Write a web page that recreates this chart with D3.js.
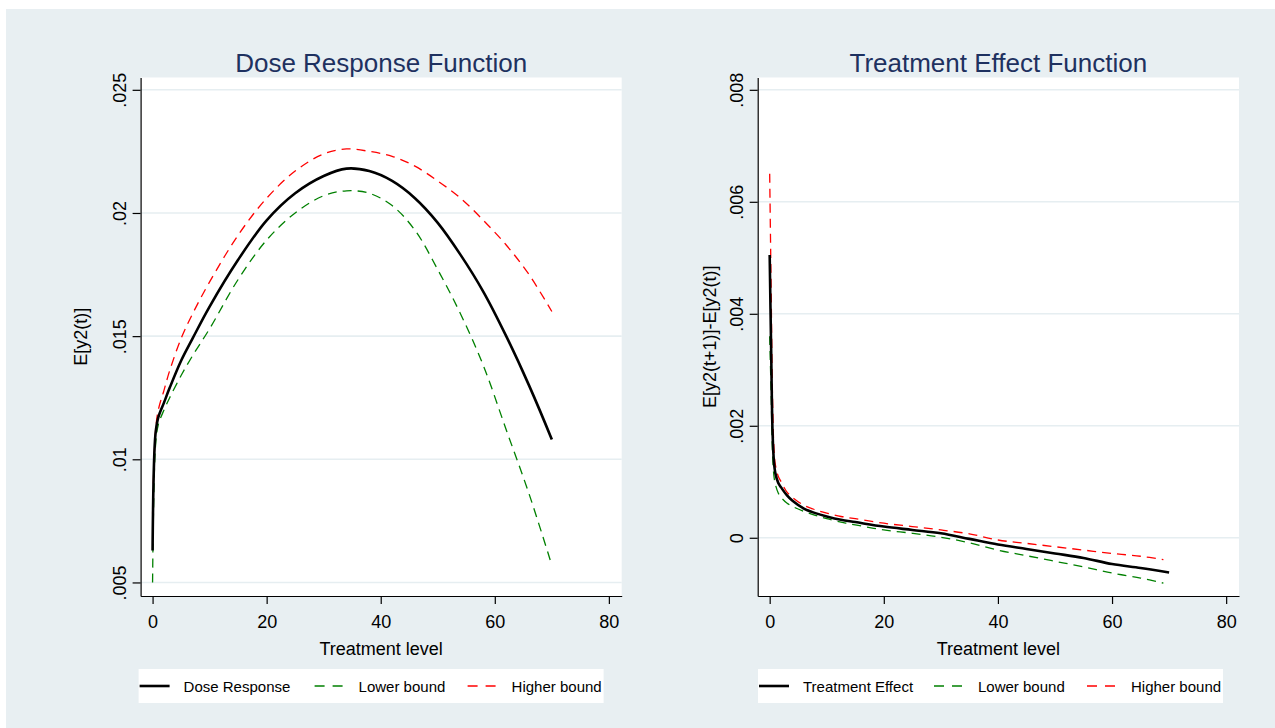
<!DOCTYPE html>
<html>
<head>
<meta charset="utf-8">
<script src="https://cdn.jsdelivr.net/npm/d3@7"></script>
<style>
  body { margin: 0; background: #ffffff; }
  svg { display: block; font-family: "Liberation Sans", Arial, sans-serif; }
</style>
</head>
<body>
<svg id="chart" width="1275" height="728"></svg>
<script>
const doseT = [0, 0.5, 1, 2, 3, 5, 7, 10, 15, 20, 25, 30, 34, 38, 42, 46, 50, 54, 58, 62, 66, 70];
const doseResponse = [0.0063, 0.0110, 0.0117, 0.0123, 0.0129, 0.0140, 0.0149, 0.0162, 0.0181, 0.0197, 0.0208, 0.0215, 0.0218, 0.0217, 0.0213, 0.0206, 0.0196, 0.0183, 0.0168, 0.0150, 0.0130, 0.0108];
const doseLower = [0.0050, 0.0105, 0.0114, 0.0120, 0.0125, 0.0134, 0.0142, 0.0153, 0.0173, 0.0189, 0.0200, 0.0207, 0.0209, 0.0208, 0.0203, 0.0193, 0.0177, 0.0159, 0.0138, 0.0112, 0.0086, 0.0057];
const doseHigher = [0.0078, 0.0111, 0.0120, 0.0128, 0.0136, 0.0149, 0.0159, 0.0172, 0.0191, 0.0206, 0.0217, 0.0224, 0.0226, 0.0225, 0.0223, 0.0219, 0.0213, 0.0206, 0.0197, 0.0187, 0.0175, 0.0160];

const effectT = [0, 0.25, 0.5, 0.75, 1, 1.5, 2, 3, 4, 6, 8, 10, 12.5, 15, 20, 25, 30, 35, 40, 45, 50, 55, 60, 65, 70];
const boundT = [0, 0.25, 0.5, 0.75, 1, 1.5, 2, 3, 4, 6, 8, 10, 12.5, 15, 20, 25, 30, 35, 40, 45, 50, 55, 60, 65, 69];
const treatEffect = [0.00505, 0.0034, 0.0019, 0.00135, 0.00115, 0.00098, 0.0009, 0.00076, 0.00066, 0.00052, 0.00044, 0.00038, 0.00032, 0.00028, 0.0002, 0.00014, 0.00008, -0.00002, -0.00012, -0.0002, -0.00028, -0.00036, -0.00047, -0.00054, -0.00062];
const effectLower = [0.0036, 0.0026, 0.0015, 0.0011, 0.00095, 0.0008, 0.00072, 0.00062, 0.00056, 0.00047, 0.0004, 0.00034, 0.00028, 0.00023, 0.00014, 0.00008, 0.00001, -0.00009, -0.00022, -0.00032, -0.00042, -0.00052, -0.00063, -0.00072, -0.00081];
const effectHigher = [0.0065, 0.0045, 0.0025, 0.0016, 0.0013, 0.0011, 0.001, 0.00082, 0.00072, 0.00058, 0.0005, 0.00044, 0.00038, 0.00034, 0.00026, 0.0002, 0.00014, 0.00007, -0.00004, -0.0001, -0.00016, -0.00022, -0.00028, -0.00033, -0.00039];

const xTicks = [0, 20, 40, 60, 80];
const doseTicks = [0.005, 0.01, 0.015, 0.02, 0.025];
const effectTicks = [0, 0.002, 0.004, 0.006, 0.008];

const bg = '#e8eff2';
const titleColor = '#1e3160';

const svg = d3.select('#chart');
svg.append('rect').attr('x', 6).attr('y', 9).attr('width', 1269).attr('height', 719).attr('fill', bg);

const fmt = v => d3.format('.3~f')(v).replace(/^0\./, '.');

function drawPanel(p) {
    const x = d3.scaleLinear().domain([-2.1, 82.25]).range([p.left, p.right]);
    const y = d3.scaleLinear().domain(p.yDomain).range([596, 77.5]);
    const g = svg.append('g');

    g.append('rect')
        .attr('x', p.left).attr('y', 77.5)
        .attr('width', p.right - p.left).attr('height', 596 - 77.5)
        .attr('fill', '#ffffff');

    // grid lines
    g.selectAll('line.grid')
        .data(p.yTicks)
        .enter().append('line')
        .attr('x1', p.left).attr('x2', p.right)
        .attr('y1', d => y(d)).attr('y2', d => y(d))
        .attr('stroke', '#e6eef1').attr('stroke-width', 1.6);

    const yAxis = g.append('g')
        .attr('transform', `translate(${p.left},0)`)
        .call(d3.axisLeft(y).tickValues(p.yTicks).tickFormat(fmt).tickSize(8).tickSizeOuter(0));
    yAxis.selectAll('text')
        .attr('transform', 'translate(-15,0) rotate(-90)')
        .attr('x', 0).attr('y', 0).attr('dy', 0)
        .attr('text-anchor', 'middle');

    const xAxis = g.append('g')
        .attr('transform', 'translate(0,596)')
        .call(d3.axisBottom(x).tickValues(xTicks).tickSize(8).tickSizeOuter(0));
    xAxis.selectAll('text').attr('y', 0).attr('dy', 32);

    [yAxis, xAxis].forEach(a => {
        a.select('.domain').attr('stroke', '#000').attr('stroke-width', 1.2);
        a.selectAll('.tick line').attr('stroke', '#000').attr('stroke-width', 1.2);
        a.selectAll('text').style('font-size', '18px').attr('fill', '#000');
    });

    const line = (tt) => d3.line()
        .x((d, i) => x(tt[i]))
        .y(d => y(d))
        .curve(d3.curveCatmullRom.alpha(0.5));

    g.append('path').datum(p.higher)
        .attr('d', line(p.boundT))
        .attr('fill', 'none').attr('stroke', '#ff0000')
        .attr('stroke-width', 1.3).attr('stroke-dasharray', '9,6');
    g.append('path').datum(p.lower)
        .attr('d', line(p.boundT))
        .attr('fill', 'none').attr('stroke', '#008000')
        .attr('stroke-width', 1.3).attr('stroke-dasharray', '9,6');
    g.append('path').datum(p.main)
        .attr('d', line(p.mainT))
        .attr('fill', 'none').attr('stroke', '#000')
        .attr('stroke-width', 2.6);

    const cx = (p.left + p.right) / 2;
    g.append('text')
        .attr('x', cx).attr('y', 72)
        .attr('text-anchor', 'middle')
        .style('font-size', '26px')
        .attr('fill', titleColor)
        .text(p.title);

    g.append('text')
        .attr('x', cx).attr('y', 655)
        .attr('text-anchor', 'middle')
        .style('font-size', '18px')
        .text('Treatment level');

    g.append('text')
        .attr('transform', `translate(${p.yTitleX},${(77.5 + 596) / 2}) rotate(-90)`)
        .attr('text-anchor', 'middle')
        .style('font-size', '18px')
        .text(p.yTitle);

    // legend
    const lg = g.append('g').attr('transform', `translate(${p.legendX},669)`);
    lg.append('rect').attr('width', 465).attr('height', 34).attr('fill', '#ffffff');
    const items = [
        {label: p.mainLabel, color: '#000', w: 2.6, dash: null},
        {label: 'Lower bound', color: '#008000', w: 1.3, dash: '10,8'},
        {label: 'Higher bound', color: '#ff0000', w: 1.3, dash: '10,8'}
    ];
    const item = lg.selectAll('g.item')
        .data(items)
        .enter().append('g')
        .attr('transform', (d, i) => `translate(${[0, 175, 328][i]},0)`);
    item.append('line')
        .attr('x1', 1).attr('x2', 31).attr('y1', 17).attr('y2', 17)
        .attr('stroke', d => d.color).attr('stroke-width', d => d.w)
        .attr('stroke-dasharray', d => d.dash);
    item.append('text')
        .attr('x', 45).attr('y', 22.5)
        .style('font-size', '15px')
        .text(d => d.label);
}

drawPanel({
    left: 140.6, right: 621.7,
    yDomain: [0.00445, 0.0255], yTicks: doseTicks,
    mainT: doseT, boundT: doseT,
    main: doseResponse, lower: doseLower, higher: doseHigher,
    title: 'Dose Response Function', yTitle: 'E[y2(t)]', yTitleX: 87,
    mainLabel: 'Dose Response', legendX: 138.6
});

drawPanel({
    left: 757.7, right: 1239,
    yDomain: [-0.00104, 0.00822], yTicks: effectTicks,
    mainT: effectT, boundT: boundT,
    main: treatEffect, lower: effectLower, higher: effectHigher,
    title: 'Treatment Effect Function', yTitle: 'E[y2(t+1)]-E[y2(t)]', yTitleX: 716,
    mainLabel: 'Treatment Effect', legendX: 758
});
</script>
</body>
</html>
